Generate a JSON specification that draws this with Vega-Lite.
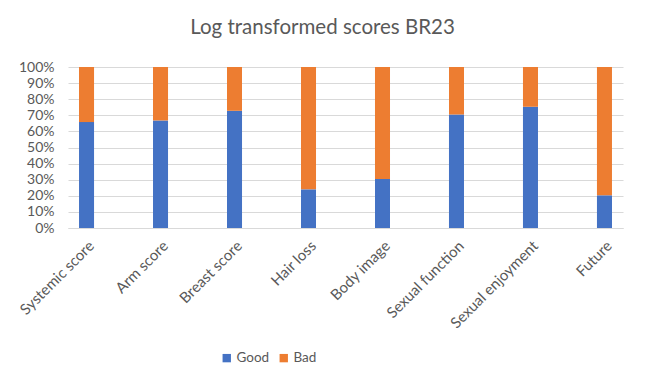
{
  "$schema": "https://vega.github.io/schema/vega-lite/v6.json",
  "autosize": "none",
  "width": 555,
  "height": 161,
  "padding": {"left": 68, "top": 67, "right": 23, "bottom": 161},
  "background": "white",
  "config": {
    "font": "Lato",
    "view": {"stroke": null}
  },
  "title": {
    "text": "Log transformed scores BR23",
    "fontSize": 20.5,
    "font": "Lato",
    "fontWeight": "normal",
    "color": "#595959",
    "anchor": "middle",
    "dx": -23,
    "offset": 22
  },
  "data": {
    "values": [
      {"category": "Systemic score", "series": "Good", "value": 65.8, "o": 0},
      {"category": "Systemic score", "series": "Bad", "value": 34.2, "o": 1},
      {"category": "Arm score", "series": "Good", "value": 66.8, "o": 0},
      {"category": "Arm score", "series": "Bad", "value": 33.2, "o": 1},
      {"category": "Breast score", "series": "Good", "value": 72.8, "o": 0},
      {"category": "Breast score", "series": "Bad", "value": 27.2, "o": 1},
      {"category": "Hair loss", "series": "Good", "value": 24.0, "o": 0},
      {"category": "Hair loss", "series": "Bad", "value": 76.0, "o": 1},
      {"category": "Body image", "series": "Good", "value": 30.5, "o": 0},
      {"category": "Body image", "series": "Bad", "value": 69.5, "o": 1},
      {"category": "Sexual function", "series": "Good", "value": 70.5, "o": 0},
      {"category": "Sexual function", "series": "Bad", "value": 29.5, "o": 1},
      {"category": "Sexual enjoyment", "series": "Good", "value": 75.3, "o": 0},
      {"category": "Sexual enjoyment", "series": "Bad", "value": 24.7, "o": 1},
      {"category": "Future", "series": "Good", "value": 20.3, "o": 0},
      {"category": "Future", "series": "Bad", "value": 79.7, "o": 1}
    ]
  },
  "mark": {"type": "bar"},
  "encoding": {
    "x": {
      "field": "category",
      "type": "nominal",
      "sort": null,
      "scale": {"paddingInner": 0.797, "paddingOuter": 0.149},
      "axis": {
        "title": null,
        "labelAngle": -45,
        "labelFontSize": 15,
        "labelColor": "#595959",
        "labelPadding": 10,
        "ticks": false,
        "domainColor": "#D9D9D9",
        "domainWidth": 1
      }
    },
    "y": {
      "field": "value",
      "type": "quantitative",
      "stack": "normalize",
      "scale": {"domain": [0, 1]},
      "axis": {
        "title": null,
        "format": ".0%",
        "values": [0, 0.1, 0.2, 0.3, 0.4, 0.5, 0.6, 0.7, 0.8, 0.9, 1],
        "labelFontSize": 14,
        "labelColor": "#595959",
        "labelPadding": 14,
        "ticks": false,
        "domain": false,
        "gridColor": "#D9D9D9",
        "gridWidth": 1
      }
    },
    "color": {
      "field": "series",
      "type": "nominal",
      "scale": {"domain": ["Good", "Bad"], "range": ["#4472C4", "#ED7D31"]},
      "legend": {
        "title": null,
        "orient": "none",
        "direction": "horizontal",
        "legendX": 152,
        "legendY": 284,
        "symbolType": "square",
        "symbolSize": 70,
        "symbolStrokeWidth": 0,
        "labelFontSize": 13.5,
        "labelColor": "#595959",
        "columnPadding": 7,
        "labelOffset": 3
      }
    },
    "order": {"field": "o", "type": "quantitative"}
  }
}
